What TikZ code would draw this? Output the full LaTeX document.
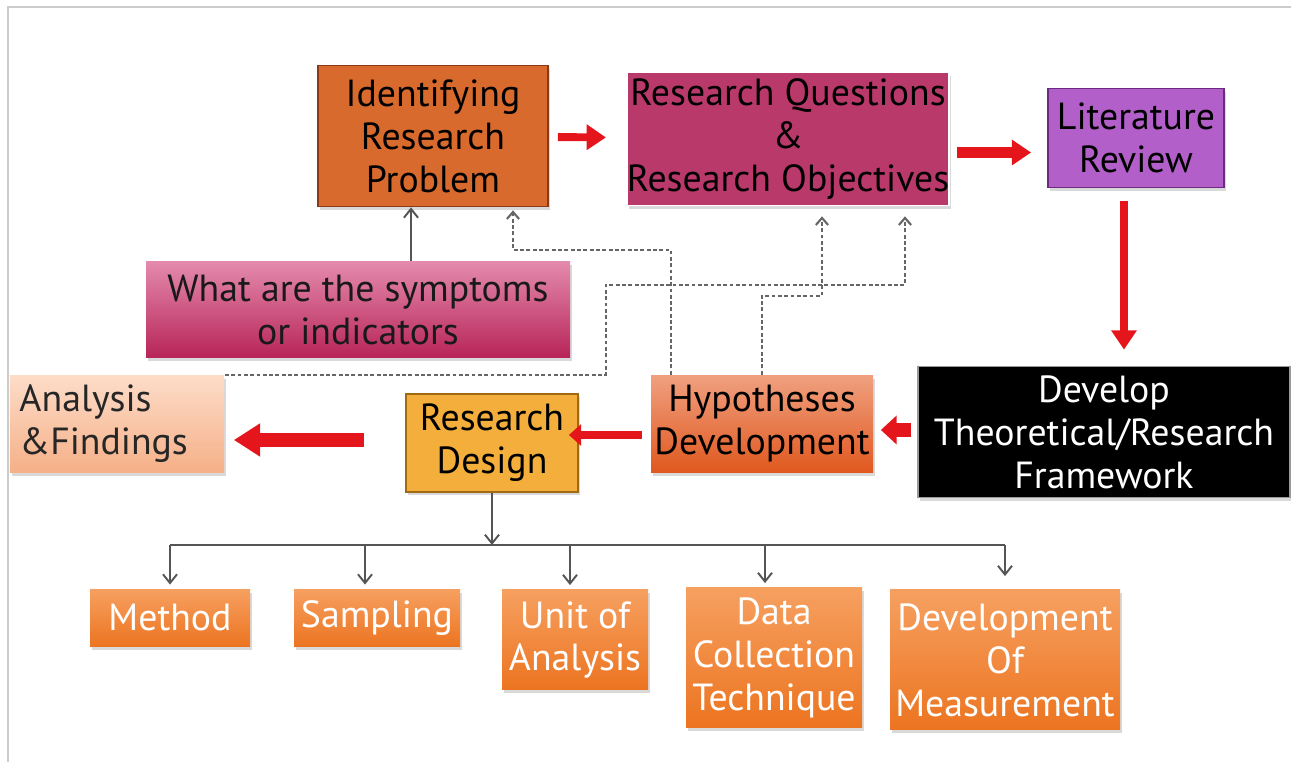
\documentclass[tikz,border=0pt]{standalone}
\usepackage{fontspec}
\setmainfont{PT Sans}
\usetikzlibrary{arrows.meta,shadows}
\definecolor{probcol}{HTML}{D86A2E}
\definecolor{probedge}{HTML}{8A3A18}
\definecolor{questcol}{HTML}{B8396A}
\definecolor{litcol}{HTML}{B35FC9}
\definecolor{litedge}{HTML}{6B2B80}
\definecolor{designcol}{HTML}{F4AE3C}
\definecolor{designedge}{HTML}{A06A14}
\definecolor{hypotop}{HTML}{F0A080}
\definecolor{hypobot}{HTML}{E0581E}
\definecolor{aftop}{HTML}{FDDCC8}
\definecolor{afbot}{HTML}{F5B088}
\definecolor{symtop}{HTML}{E48AAC}
\definecolor{symbot}{HTML}{B72458}
\definecolor{leaftop}{HTML}{F6A060}
\definecolor{leafbot}{HTML}{EC7420}
\definecolor{arrowred}{HTML}{E4151B}
\definecolor{linegray}{HTML}{555555}
\tikzset{
  box/.style={inner sep=0pt, align=center, line width=1pt, font=\fontsize{21.5}{24.4}\selectfont,
    drop shadow={shadow xshift=0.04cm, shadow yshift=-0.07cm, opacity=0.3}},
  glossbox/.style={box, draw=none},
  leafbox/.style={glossbox, top color=leaftop, bottom color=leafbot, text=white},
  redarrow/.style={draw=arrowred, line width=4.5pt, -{Triangle[length=11pt,width=14pt]}},
  dasharrow/.style={draw=black!60, line width=1.2pt, dash pattern=on 2.2pt off 1.4pt, -{Straight Barb[length=4pt,width=7pt]}},
  treearrow/.style={draw=linegray, line width=1.1pt, -{Straight Barb[length=5pt,width=8pt]}},
}
\begin{document}
\begin{tikzpicture}
\useasboundingbox (0,0) rectangle (25.82,15.24);
\draw[black!20, line width=1.2pt] (0.16,0) -- (0.16,15.1) -- (25.82,15.1);

\node[box, fill=probcol, draw=probedge, minimum width=4.6cm, minimum height=2.82cm] (IRP) at (8.66,12.52) {Identifying\\Research\\Problem};
\node[box, fill=questcol, draw=white, minimum width=6.4cm, minimum height=2.66cm] (RQ) at (15.76,12.46) {Research Questions\\\&\\Research Objectives};
\node[box, fill=litcol, draw=litedge, minimum width=3.52cm, minimum height=1.98cm] (LR) at (22.72,12.48) {Literature\\Review};
\node[box, fill=black, draw=black!40, text=white, minimum width=7.44cm, minimum height=2.62cm] (TF) at (22.08,6.6) {Develop\\Theoretical/Research\\Framework};
\node[glossbox, top color=hypotop, bottom color=hypobot, minimum width=4.44cm, minimum height=1.94cm] (HD) at (15.24,6.76) {Hypotheses\\Development};
\node[box, fill=designcol, draw=designedge, minimum width=3.44cm, minimum height=1.96cm] (RD) at (9.84,6.38) {Research\\Design};
\node[glossbox, top color=aftop, bottom color=afbot, text=black!85, text width=3.9cm, align=left, minimum width=4.28cm, minimum height=1.94cm] (AF) at (2.34,6.76) {Analysis\\\&Findings};
\node[glossbox, top color=symtop, bottom color=symbot, text=black!90, minimum width=8.48cm, minimum height=1.92cm] (SI) at (7.16,9.04) {What are the symptoms\\or indicators};

\node[leafbox, minimum width=3.2cm, minimum height=1.14cm] (ME) at (3.4,2.88) {Method};
\node[leafbox, minimum width=3.32cm, minimum height=1.14cm] (SA) at (7.54,2.88) {Sampling};
\node[leafbox, minimum width=2.92cm, minimum height=2cm] (UA) at (11.5,2.44) {Unit of\\Analysis};
\node[leafbox, minimum width=3.52cm, minimum height=2.8cm] (DC) at (15.48,2.08) {Data\\Collection\\Technique};
\node[leafbox, minimum width=4.6cm, minimum height=2.8cm] (DM) at (20.1,2.04) {Development\\Of\\Measurement};

\draw[redarrow, shorten <=0.18cm, shorten >=0.4cm] (IRP) -- (RQ);
\draw[redarrow, line width=6pt, shorten <=0.14cm, shorten >=0.32cm] ([yshift=-0.27cm]RQ.east) -- ([yshift=-0.27cm]RQ.east -| LR.west);
\draw[redarrow, line width=4pt, shorten <=0.26cm, shorten >=0.32cm] ([xshift=-0.24cm]LR.south) -- ([xshift=-0.24cm]LR.south |- TF.north);
\draw[redarrow, line width=8pt, -{Triangle[length=9pt,width=16pt]}, shorten <=0.12cm, shorten >=0.14cm] ([yshift=0.04cm]TF.west) -- ([yshift=0.04cm]TF.west -| HD.east);
\draw[redarrow, line width=5pt, -{Triangle[length=7pt,width=12pt]}, shorten <=0.16cm, shorten >=-0.2cm] ([yshift=-0.22cm]HD.west) -- ([yshift=-0.22cm]HD.west -| RD.east);
\draw[redarrow, line width=8.5pt, -{Triangle[length=15pt,width=18pt]}, shorten <=0.82cm, shorten >=0.18cm] ([yshift=0.06cm]RD.west) -- ([yshift=0.06cm]RD.west -| AF.east);

\draw[treearrow] ([xshift=-0.44cm]SI.north -| IRP.south) -- ([xshift=-0.44cm]IRP.south);
\draw[dasharrow, shorten >=0.06cm] ([xshift=-1.82cm]HD.north) -- ++(0,2.5) -| ([xshift=1.6cm]IRP.south);
\draw[dasharrow, shorten >=0.2cm] (AF.north east) -- ++(7.62,0) -- ++(0,1.8) -| ([xshift=2.34cm]RQ.south);
\draw[dasharrow, shorten >=0.2cm] (HD.north) -- ++(0,1.58) -| ([xshift=0.68cm]RQ.south);

\coordinate (bus) at (9.82,4.34);
\draw[treearrow] (RD.south) -- (RD.south |- bus);
\draw[draw=linegray, line width=1.1pt] (ME.north |- bus) -- (DM.north |- bus);
\draw[treearrow, shorten >=0.08cm] (ME.north |- bus) -- (ME.north);
\draw[treearrow, shorten >=0.08cm] ([xshift=-0.24cm]SA.north |- bus) -- ([xshift=-0.24cm]SA.north);
\draw[treearrow, shorten >=0.08cm] ([xshift=-0.1cm]UA.north |- bus) -- ([xshift=-0.1cm]UA.north);
\draw[treearrow, shorten >=0.08cm] ([xshift=-0.18cm]DC.north |- bus) -- ([xshift=-0.18cm]DC.north);
\draw[treearrow, shorten >=0.26cm] (DM.north |- bus) -- (DM.north);
\end{tikzpicture}
\end{document}
